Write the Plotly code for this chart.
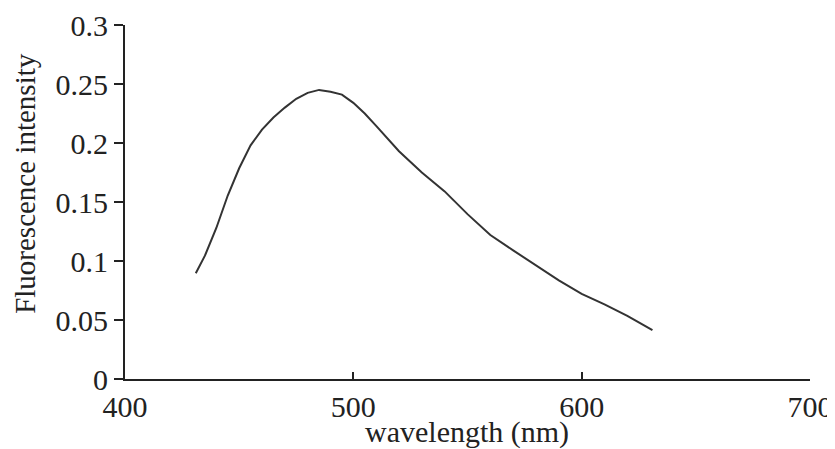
import plotly.graph_objects as go

wavelength = [431, 435, 440, 445, 450, 455, 460, 465, 470, 475, 480, 485, 490, 495,
              500, 505, 510, 520, 530, 540, 550, 560, 570, 580, 590, 600, 610, 620, 631]
intensity = [0.0896, 0.1045, 0.128, 0.1555, 0.1786, 0.198, 0.2114, 0.2216, 0.230, 0.2375,
             0.2425, 0.245, 0.2435, 0.241, 0.234, 0.225, 0.2145, 0.193, 0.175, 0.159,
             0.1397, 0.122, 0.109, 0.0965, 0.0836, 0.0721, 0.0632, 0.0535, 0.0415]
x_ticks = [400, 500, 600, 700]
y_ticks = [0, 0.05, 0.1, 0.15, 0.2, 0.25, 0.3]
y_tick_text = ["0", "0.05", "0.1", "0.15", "0.2", "0.25", "0.3"]

FONT = "Liberation Serif"

fig = go.Figure()
fig.add_trace(go.Scatter(x=wavelength, y=intensity, mode="lines",
                         line=dict(color="#333333", width=2), showlegend=False))

fig.update_layout(
    width=827, height=441,
    margin=dict(l=117, r=25, t=17, b=70, autoexpand=False),
    paper_bgcolor="white", plot_bgcolor="white",
    font=dict(family=FONT, size=28, color="#222222"),
    xaxis=dict(range=[400, 700], tickvals=x_ticks, ticks="inside", ticklen=7,
               tickwidth=2, tickcolor="#222222", showline=True, linecolor="#222222",
               linewidth=2, showgrid=False, zeroline=False, automargin=False,
               ticklabeloverflow="allow",
               tickfont=dict(family=FONT, size=30)),
    yaxis=dict(range=[0, 0.3], tickvals=y_ticks, ticktext=y_tick_text, ticks="outside",
               ticklen=9, tickwidth=2, tickcolor="#222222", showline=True,
               linecolor="#222222", linewidth=2, showgrid=False, zeroline=False,
               automargin=False, ticklabeloverflow="allow",
               tickfont=dict(family=FONT, size=30)),
    annotations=[
        dict(text="Fluorescence intensity", xref="paper", yref="paper",
             x=-0.146, y=0.554, textangle=-90, showarrow=False,
             xanchor="center", yanchor="middle",
             font=dict(family=FONT, size=29, color="#222222")),
        dict(text="wavelength (nm)", xref="paper", yref="paper",
             x=0.499, y=-0.15, showarrow=False,
             xanchor="center", yanchor="middle",
             font=dict(family=FONT, size=30, color="#222222")),
    ],
)

fig.write_html("out.html")
